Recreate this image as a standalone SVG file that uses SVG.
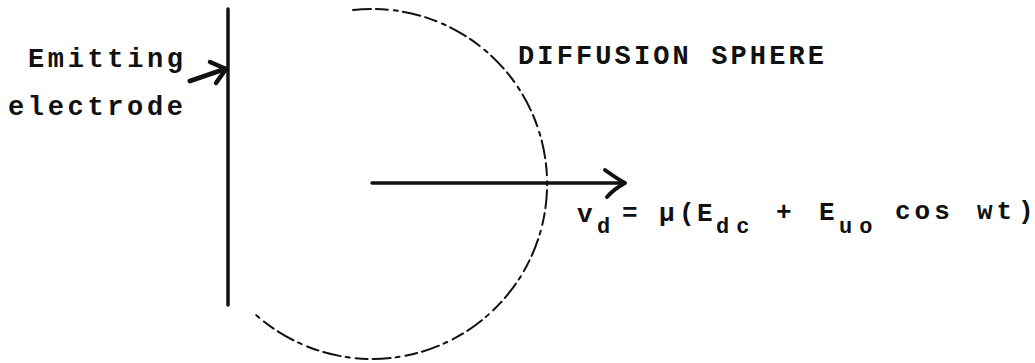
<svg xmlns="http://www.w3.org/2000/svg" width="1035" height="363" viewBox="0 0 1035 363">
<style>
.t{font-family:"Liberation Mono","Courier New",monospace;font-weight:bold;fill:#111;}
.sub{font-size:22px;}
.ln{stroke:#111;fill:none;stroke-linecap:round;stroke-linejoin:round;}
</style>
<rect width="1035" height="363" fill="#fff"/>
<g id="electrode">
<line class="ln" x1="228" y1="9" x2="228" y2="305" stroke-width="3.5"/>
<text class="t" x="28" y="67" font-size="27" textLength="155" lengthAdjust="spacing">Emitting</text>
<text class="t" x="8" y="115" font-size="27" textLength="175" lengthAdjust="spacing">electrode</text>
</g>
<g id="sphere">
<path class="ln" d="M353,10 A175,175 0 1 1 255,314" stroke-width="2" stroke-dasharray="18 5 12 6 4 5"/>
<text class="t" x="518" y="64" font-size="27" textLength="306" lengthAdjust="spacing">DIFFUSION SPHERE</text>
</g>
<g id="formula">
<text class="t" font-size="26"><tspan x="577" y="222">v</tspan><tspan class="sub" x="597" y="233">d</tspan><tspan x="622" y="221">=</tspan><tspan x="659" y="221">μ</tspan><tspan x="679" y="221">(</tspan><tspan x="697" y="221">E</tspan><tspan class="sub" x="716" y="233" letter-spacing="7">dc</tspan><tspan x="776" y="220">+</tspan><tspan x="819" y="220">E</tspan><tspan class="sub" x="839" y="233" letter-spacing="7">uo</tspan><tspan x="895" y="219" letter-spacing="4">cos</tspan><tspan x="977" y="219" letter-spacing="4">wt</tspan><tspan x="1018" y="219">)</tspan></text>
</g>
<g id="connectors">
<line class="ln" x1="190" y1="81" x2="225" y2="69" stroke-width="5"/>
<polyline class="ln" points="210,62 226,69 216,83" stroke-width="4.5"/>
<line class="ln" x1="372" y1="183" x2="623" y2="183" stroke-width="3.5"/>
<path class="ln" d="M605,170 Q616,178 625,183 Q614,189 607,197" stroke-width="4"/>
</g>
</svg>
